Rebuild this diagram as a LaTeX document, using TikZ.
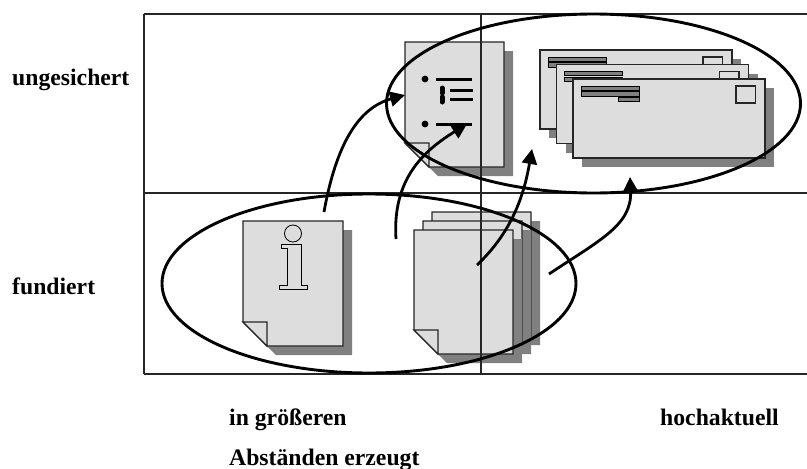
\documentclass[tikz,border=0pt]{standalone}
\usepackage{fontspec}
\setmainfont{Liberation Serif}
\usetikzlibrary{arrows.meta}
\definecolor{paper}{HTML}{DDDDDD}
\definecolor{shade}{HTML}{808080}
\tikzset{
  sheet/.style={draw=black!85,fill=paper,line width=1.1pt},
  shadow/.style={fill=shade},
  frameline/.style={draw=black!85,line width=1.2pt},
  cloud/.style={draw=black,line width=2.9pt},
  flow/.style={draw=black,line width=2.8pt,-{Triangle[length=15pt,width=15pt]}},
  bar/.style={draw=black,fill=shade,line width=0.8pt},
  label/.style={font=\fontsize{23.7}{26}\selectfont\bfseries,anchor=base west,inner sep=0pt}
}
% sheet with fold at lower left: #1,#2 = top left, #3,#4 = bottom right
\newcommand{\foldsheet}[4]{
\path [shadow] (#1+24+9,#4+9) -- (#3+9,#4+9) -- (#3+9,#2+9) -- (#3,#2+9) -- (#3,#4) -- (#1+24,#4) -- cycle;
\draw [sheet] (#1,#2) -- (#3,#2) -- (#3,#4) -- (#1+24,#4) -- (#1,#4-24) -- cycle;
\draw [sheet] (#1,#4-24) -- (#1+24,#4-24) -- (#1+24,#4) -- cycle;
}
% plain sheet with shadow
\newcommand{\plainsheet}[4]{
\path [shadow] (#1+9,#2+9) rectangle (#3+9,#4+9);
\draw [sheet] (#1,#2) rectangle (#3,#4);
}
% envelope: #1,#2 = top left
\newcommand{\envelope}[2]{
\plainsheet{#1}{#2}{#1+192}{#2+79}
\draw [sheet] (#1+163,#2+7) rectangle (#1+182.5,#2+24);
\draw [bar] (#1+8,#2+7) rectangle (#1+66,#2+11);
\draw [bar] (#1+8,#2+12.5) rectangle (#1+66,#2+17);
\draw [bar] (#1+45,#2+18) rectangle (#1+66,#2+22);
}
\begin{document}
\begin{tikzpicture}[x=1pt,y=-1pt]
\useasboundingbox (0,0) rectangle (807,469);
% upper sheet with bullets
\foldsheet{405}{42}{504}{167}
\fill (425,79) circle (3.4);
\fill (425,124) circle (3.4);
\draw [line width=3pt] (436,79) -- (472,79);
\draw [line width=3pt] (450,90) -- (473,90);
\draw [line width=3pt] (450,99) -- (473,99);
\draw [line width=3pt] (436,124) -- (472,124);
\draw [line width=5pt,line cap=round] (442,88) -- (442,93);
\draw [line width=5pt,line cap=round] (442,97) -- (442,102);
% envelopes
\envelope{540}{50}
\envelope{556.5}{64.5}
\envelope{573}{79}
% info sheet
\foldsheet{243}{221}{343}{346}
\draw [line width=0.8pt,fill=paper] (293,233.5) circle (8.5);
\draw [line width=0.8pt] (281,244) -- (301,244) -- (301,285) -- (307,285) -- (307,289) -- (279,289) -- (279,285) -- (287,285) -- (287,248) -- (281,248) -- cycle;
% stacked sheets
\foldsheet{432}{212}{531}{336}
\foldsheet{423}{221}{522}{345}
\foldsheet{414}{230}{513}{354}
% frame
\draw [frameline] (144,14) -- (807,14);
\draw [frameline] (144,193) -- (807,193);
\draw [frameline] (144,374) -- (807,374);
\draw [frameline] (144,14) -- (144,374);
\draw [frameline] (481,14) -- (481,374);
% groups
\draw [cloud] (593.5,103.5) ellipse (207 and 89.5);
\draw [cloud] (369,283.5) ellipse (207 and 89.5);
% flows
\coordinate (infoOut) at (324,212);
\coordinate (bulletIn) at (405,95);
\coordinate (stackLeft) at (396,239);
\coordinate (bulletLow) at (467,124);
\coordinate (stackMid) at (477,265);
\coordinate (envLeft) at (532,149);
\coordinate (stackRight) at (549,274);
\coordinate (envLow) at (630,177);
\draw [flow] (infoOut) .. controls (336,145) and (358,108) .. (bulletIn);
\draw [flow] (stackLeft) .. controls (392,178) and (425,150) .. (bulletLow);
\draw [flow] (stackMid) .. controls (512,232) and (524,195) .. (envLeft);
\draw [flow] (stackRight) .. controls (600,240) and (632,225) .. (envLow);
% labels
\node [label] (secured) at (12,85) {ungesichert};
\node [label] (founded) at (12,294) {fundiert};
\node [label] (rare) at (229,425) {in größeren};
\node [label] (current) at (660,425) {hochaktuell};
\node [label] (rareTwo) at (229,465) {Abständen erzeugt};
\end{tikzpicture}
\end{document}
